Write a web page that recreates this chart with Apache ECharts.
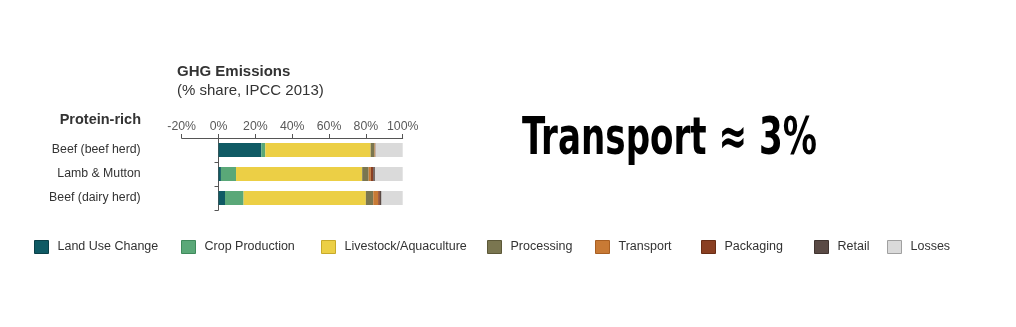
<!DOCTYPE html>
<html>
<head>
<meta charset="utf-8">
<script src="https://cdn.jsdelivr.net/npm/echarts@6/dist/echarts.min.js"></script>
<style>
html,body{margin:0;padding:0;background:#fff;}
#c{width:1016px;height:327px;}
</style>
</head>
<body>
<div id="c"></div>
<script>
const categories = ['Beef (beef herd)', 'Lamb & Mutton', 'Beef (dairy herd)'];
const seriesNames = ['Land Use Change', 'Crop Production', 'Livestock/Aquaculture', 'Processing', 'Transport', 'Packaging', 'Retail', 'Losses'];
const landUse    = [23.2, 1.3, 3.5];
const crop       = [2.2, 8.2, 10.1];
const livestock  = [57.2, 68.5, 66.4];
const processing = [2.1, 3.5, 4.0];
const transport  = [0.3, 1.2, 2.7];
const packaging  = [0.2, 1.3, 0.9];
const retail     = [0.1, 0.9, 0.9];
const losses     = [14.7, 15.1, 11.5];
const xTicks = { min: -20, max: 100, interval: 20 };

const colors = ['#0f5a64', '#5aa878', '#eccf45', '#7a7650', '#c87a35', '#8a3f22', '#5a4a45', '#dadada'];
const legendBorders = ['#0a4048', '#3f8a5c', '#c8aa2a', '#5c5838', '#a85f22', '#6a2d15', '#403430', '#a0a0a0'];
const legendLeft = [34, 181, 321, 487, 595, 701, 814, 887];
const values = [landUse, crop, livestock, processing, transport, packaging, retail, losses];

const bigText = 'Transport \u2248 3%';
const bigFont = 'bold 52px "DejaVu Sans Condensed"';
const ctx = document.createElement('canvas').getContext('2d');
ctx.font = bigFont;
const bigW = ctx.measureText(bigText).width;
const bigScale = 295 / bigW;

const chart = echarts.init(document.getElementById('c'), null, { renderer: 'canvas' });
chart.setOption({
  animation: false,
  backgroundColor: '#ffffff',
  textStyle: { fontFamily: '"Liberation Sans", Arial, sans-serif' },
  grid: { left: 181.7, right: 613.3, top: 138, height: 72 },
  xAxis: {
    type: 'value', position: 'top',
    min: xTicks.min, max: xTicks.max, interval: xTicks.interval,
    splitLine: { show: false },
    axisLine: { show: true, lineStyle: { color: '#555', width: 1 } },
    axisTick: { show: true, length: 4, lineStyle: { color: '#555' } },
    axisLabel: { formatter: '{value}%', fontSize: 12.3, color: '#595959', margin: 5 }
  },
  yAxis: {
    type: 'category', inverse: true, data: categories,
    axisLine: { show: true, onZero: true, lineStyle: { color: '#555', width: 1 } },
    axisTick: { show: true, length: 4, lineStyle: { color: '#555' } },
    axisLabel: { fontSize: 12.3, color: '#333', margin: 41 }
  },
  legend: seriesNames.map((n, i) => ({
    data: [n], left: legendLeft[i], top: 240, padding: 0,
    icon: 'rect', itemWidth: 14, itemHeight: 13,
    itemStyle: { borderColor: legendBorders[i], borderWidth: 1 },
    textStyle: { fontSize: 12.5, color: '#333', padding: [0, 0, 0, 4] },
    selectedMode: false
  })),
  graphic: [
    { type: 'text', x: 177, y: 72, style: { text: 'GHG Emissions', font: 'bold 15px "Liberation Sans"', fill: '#333', align: 'left', verticalAlign: 'middle' } },
    { type: 'text', x: 177, y: 91, style: { text: '(% share, IPCC 2013)', font: '15px "Liberation Sans"', fill: '#333', align: 'left', verticalAlign: 'middle' } },
    { type: 'text', x: 141, y: 120, style: { text: 'Protein-rich', font: 'bold 14.5px "Liberation Sans"', fill: '#333', align: 'right', verticalAlign: 'middle' } },
    { type: 'text', x: 522, y: 140, scaleX: bigScale, style: { text: bigText, font: bigFont, fill: '#000', align: 'left', verticalAlign: 'middle' } }
  ],
  series: seriesNames.map((n, i) => ({
    name: n, type: 'bar', stack: 'total', barWidth: 14,
    itemStyle: { color: colors[i] },
    data: values[i]
  }))
});
</script>
</body>
</html>
